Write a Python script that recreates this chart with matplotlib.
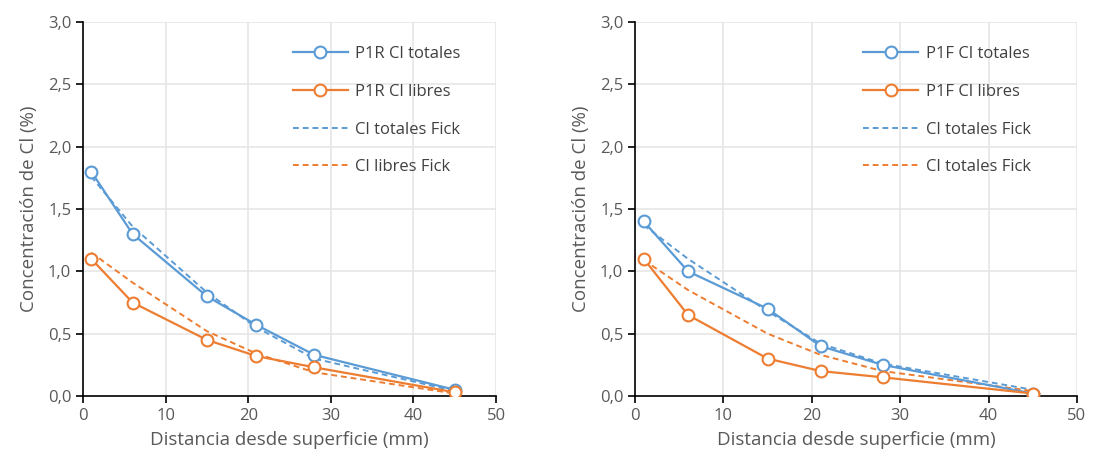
import numpy as np
import matplotlib
matplotlib.use("Agg")
import matplotlib.pyplot as plt
from matplotlib.ticker import FuncFormatter

plt.rcParams['font.family'] = ['Open Sans', 'DejaVu Sans']

dist = [1, 6, 15, 21, 28, 45]

# left panel (P1R)
p1r_tot = [1.80, 1.30, 0.80, 0.57, 0.33, 0.05]
p1r_lib = [1.10, 0.75, 0.45, 0.32, 0.23, 0.03]
p1r_tot_fick = [1.76, 1.36, 0.83, 0.55, 0.30, 0.04]
p1r_lib_fick = [1.15, 0.91, 0.52, 0.34, 0.19, 0.02]

# right panel (P1F)
p1f_tot = [1.40, 1.00, 0.70, 0.40, 0.25, 0.02]
p1f_lib = [1.10, 0.65, 0.30, 0.20, 0.15, 0.02]
p1f_tot_fick = [1.37, 1.10, 0.68, 0.42, 0.26, 0.05]
p1f_lib_fick = [1.09, 0.85, 0.50, 0.33, 0.20, 0.04]

labels_left = ['P1R Cl totales', 'P1R Cl libres', 'Cl totales Fick', 'Cl libres Fick']
labels_right = ['P1F Cl totales', 'P1F Cl libres', 'Cl totales Fick', 'Cl totales Fick']

blue = '#5b9bd5'
orange = '#ed7d31'
txt = '#595959'

fig = plt.figure(figsize=(10.93, 4.63), dpi=100)
ax1 = fig.add_axes([83/1093, 1-396/463, 413/1093, 374/463])
ax2 = fig.add_axes([635/1093, 1-396/463, 442/1093, 374/463])

comma = FuncFormatter(lambda v, p: f'{v:.1f}'.replace('.', ','))

for ax, tot, lib, tf, lf, labs, lx in [
        (ax1, p1r_tot, p1r_lib, p1r_tot_fick, p1r_lib_fick, labels_left, 0.508),
        (ax2, p1f_tot, p1f_lib, p1f_tot_fick, p1f_lib_fick, labels_right, 0.516)]:
    ax.plot(dist, tot, color=blue, lw=1.6, marker='o', ms=8.5, mfc='white', mec=blue, mew=1.5, label=labs[0], zorder=3)
    ax.plot(dist, lib, color=orange, lw=1.6, marker='o', ms=8.5, mfc='white', mec=orange, mew=1.5, label=labs[1], zorder=3)
    ax.plot(dist, tf, color=blue, lw=1.4, ls=(0, (3, 2)), label=labs[2], zorder=2)
    ax.plot(dist, lf, color=orange, lw=1.4, ls=(0, (3, 2)), label=labs[3], zorder=2)
    ax.set_xlim(0, 50)
    ax.set_ylim(0, 3.0)
    ax.set_xticks(np.arange(0, 51, 10))
    ax.set_yticks(np.arange(0, 3.01, 0.5))
    ax.yaxis.set_major_formatter(comma)
    ax.grid(True, color='#e6e6e6', lw=1.2)
    ax.set_axisbelow(True)
    for s in ['top', 'right']:
        ax.spines[s].set_visible(False)
    for s in ['left', 'bottom']:
        ax.spines[s].set_color('black')
        ax.spines[s].set_linewidth(1.2)
    ax.tick_params(direction='out', length=5, width=1.2, color='black', labelcolor=txt, labelsize=12)
    ax.set_xlabel('Distancia desde superficie (mm)', fontsize=13.5, color=txt, labelpad=5)
    ax.set_ylabel('Concentración de Cl (%)', fontsize=13.5, color=txt, labelpad=7)
    leg = ax.legend(loc='upper left', bbox_to_anchor=(lx, 0.935), frameon=False, fontsize=12,
                    borderaxespad=0, borderpad=0,
                    labelspacing=1.3, handlelength=3.3, handletextpad=0.45)
    for t in leg.get_texts():
        t.set_color('#404040')

fig.savefig('out.png', dpi=100)
